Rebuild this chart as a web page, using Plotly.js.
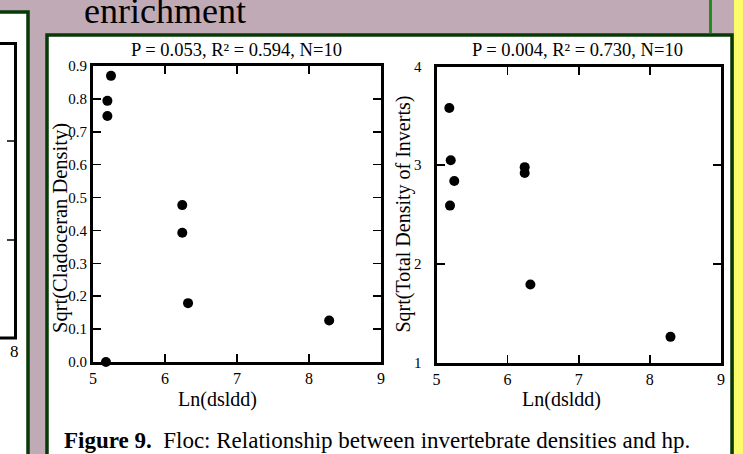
<!DOCTYPE html>
<html><head><meta charset="utf-8">
<script src="https://cdn.plot.ly/plotly-3.0.1.min.js"></script>
<style>html,body{margin:0;padding:0;background:#bfaab6;}#chart{width:743px;height:454px;}</style>
</head><body><div id="chart"></div>
<script>
// Data
const cladoX = [5.25, 5.20, 5.20, 6.24, 6.24, 6.32, 8.28, 5.18];
const cladoY = [0.87, 0.794, 0.748, 0.477, 0.393, 0.179, 0.126, 0.0];
const invertX = [5.18, 5.20, 5.25, 5.19, 6.24, 6.24, 6.32, 8.29];
const invertY = [3.58, 3.05, 2.84, 2.59, 2.98, 2.92, 1.79, 1.26];
const title1 = "P = 0.053, R\u00b2 = 0.594, N=10";
const title2 = "P = 0.004, R\u00b2 = 0.730, N=10";
const xTitle = "Ln(dsldd)";
const yTitle1 = "Sqrt(Cladoceran Density)";
const yTitle2 = "Sqrt(Total Density of Inverts)";
const caption = "<b>Figure 9.</b>\u00a0 Floc: Relationship between invertebrate densities and hp.";
const headText = "enrichment";

const W = 743, H = 454;
const px = x => x / W;
const py = y => 1 - y / H;
const FONT = "Liberation Serif";
const GREEN = "#073a07";

function axisBase(extra) {
  return Object.assign({
    ticks: "inside", ticklen: 8, tickwidth: 1.5, tickcolor: "black",
    showline: true, linewidth: 3, linecolor: "black", mirror: "allticks",
    showgrid: false, zeroline: false, fixedrange: true,
    tickfont: {family: FONT, size: 15, color: "black"}
  }, extra);
}

const traces = [
  {x: cladoX, y: cladoY, xaxis: "x", yaxis: "y", type: "scatter", mode: "markers",
   marker: {size: 10, color: "black"}, cliponaxis: false, hoverinfo: "skip"},
  {x: invertX, y: invertY, xaxis: "x2", yaxis: "y2", type: "scatter", mode: "markers",
   marker: {size: 10, color: "black"}, cliponaxis: false, hoverinfo: "skip"}
];

const layout = {
  width: W, height: H,
  margin: {l: 0, r: 0, t: 0, b: 0},
  paper_bgcolor: "#bfaab6",
  plot_bgcolor: "white",
  showlegend: false,
  font: {family: FONT, color: "black"},
  xaxis: axisBase({domain: [px(93), px(381)], range: [5, 9], tick0: 5, dtick: 1, anchor: "y",
    tickfont: {family: FONT, size: 16, color: "black"}}),
  yaxis: axisBase({domain: [py(362), py(66)], range: [0, 0.9], tick0: 0, dtick: 0.1, tickformat: ".1f", anchor: "x"}),
  xaxis2: axisBase({domain: [px(436.5), px(721)], range: [5, 9], tick0: 5, dtick: 1, anchor: "y2",
    tickfont: {family: FONT, size: 16, color: "black"}}),
  yaxis2: axisBase({domain: [py(362.5), py(66.5)], range: [1, 4], tick0: 1, dtick: 1, anchor: "x2", ticklabelstandoff: 9}),
  shapes: [
    // left partial panel
    {type: "rect", xref: "paper", yref: "paper", x0: px(-10), x1: px(28), y0: py(470), y1: py(12),
     fillcolor: "white", line: {color: GREEN, width: 3.5}, layer: "below"},
    {type: "rect", xref: "paper", yref: "paper", x0: px(-10), x1: px(15.5), y0: py(338), y1: py(43.5),
     fillcolor: "rgba(0,0,0,0)", line: {color: "black", width: 3}, layer: "below"},
    {type: "line", xref: "paper", yref: "paper", x0: px(7), x1: px(15.5), y0: py(141), y1: py(141),
     line: {color: "black", width: 1.5}, layer: "below"},
    {type: "line", xref: "paper", yref: "paper", x0: px(7), x1: px(15.5), y0: py(240), y1: py(240),
     line: {color: "black", width: 1.5}, layer: "below"},
    // main panel
    {type: "rect", xref: "paper", yref: "paper", x0: px(47), x1: px(732), y0: py(470), y1: py(35),
     fillcolor: "white", line: {color: GREEN, width: 3.5}, layer: "below"},
    // yellow strip
    {type: "rect", xref: "paper", yref: "paper", x0: px(734), x1: px(760), y0: py(470), y1: py(-10),
     fillcolor: "#fcfc6a", line: {width: 0}, layer: "below"},
    // bright green line top right
    {type: "line", xref: "paper", yref: "paper", x0: px(710.5), x1: px(710.5), y0: py(33), y1: py(-5),
     line: {color: "#1f8f1f", width: 3}, layer: "below"}
  ],
  annotations: [
    {text: headText, xref: "paper", yref: "paper", x: px(82), y: py(11), xanchor: "left", yanchor: "middle",
     showarrow: false, font: {family: FONT, size: 36, color: "black"}},
    {text: title1, xref: "paper", yref: "paper", x: px(236), y: py(50), xanchor: "center", yanchor: "middle",
     showarrow: false, font: {family: FONT, size: 18.5, color: "black"}},
    {text: title2, xref: "paper", yref: "paper", x: px(577.5), y: py(50), xanchor: "center", yanchor: "middle",
     showarrow: false, font: {family: FONT, size: 18.5, color: "black"}},
    {text: xTitle, xref: "paper", yref: "paper", x: px(218), y: py(399), xanchor: "center", yanchor: "middle",
     showarrow: false, font: {family: FONT, size: 20, color: "black"}},
    {text: xTitle, xref: "paper", yref: "paper", x: px(561), y: py(399), xanchor: "center", yanchor: "middle",
     showarrow: false, font: {family: FONT, size: 20, color: "black"}},
    {text: yTitle1, xref: "paper", yref: "paper", x: px(60), y: py(228), xanchor: "center", yanchor: "middle",
     textangle: -90, showarrow: false, font: {family: FONT, size: 20.5, color: "black"}},
    {text: yTitle2, xref: "paper", yref: "paper", x: px(402.5), y: py(214), xanchor: "center", yanchor: "middle",
     textangle: -90, showarrow: false, font: {family: FONT, size: 20, color: "black"}},
    {text: caption, xref: "paper", yref: "paper", x: px(62), y: py(440), xanchor: "left", yanchor: "middle",
     showarrow: false, font: {family: FONT, size: 23, color: "black"}},
    {text: "8", xref: "paper", yref: "paper", x: px(15), y: py(351), xanchor: "center", yanchor: "middle",
     showarrow: false, font: {family: FONT, size: 17, color: "black"}}
  ]
};

Plotly.newPlot("chart", traces, layout, {staticPlot: true, displayModeBar: false});
</script>
</body></html>
